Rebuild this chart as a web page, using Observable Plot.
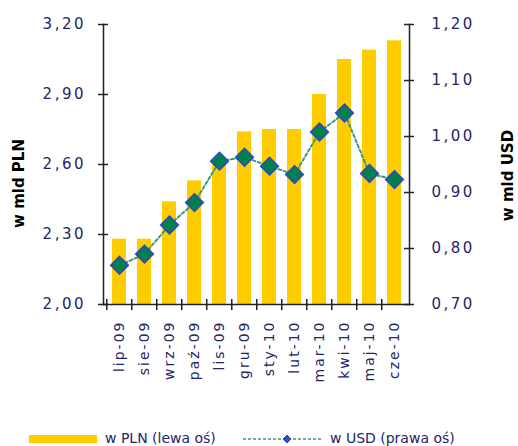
<!DOCTYPE html>
<html>
<head>
<meta charset="utf-8">
<script src="https://cdn.jsdelivr.net/npm/d3@7"></script>
<script src="https://cdn.jsdelivr.net/npm/@observablehq/plot@0.6"></script>
<style>
  html, body { margin: 0; padding: 0; background: #fff; }
  #chart svg { display: block; overflow: visible; }
  g[aria-label="y-axis tick label"] text { letter-spacing: 2.5px; }
  g[aria-label="x-axis tick label"] text { letter-spacing: 2px; }
  #legend { position: relative; width: 518px; height: 21px; font: 14px "DejaVu Sans", sans-serif; color: #242466; }
  #legend > * { position: absolute; }
</style>
</head>
<body>
<div id="chart"></div>
<div id="legend">
  <div style="left:29px;top:10px;width:68px;height:8px;background:#FFCC00"></div>
  <span style="left:105px;top:5px;line-height:16px;">w PLN (lewa oś)</span>
  <svg style="left:243px;top:8px" width="80" height="12">
    <line x1="0" y1="6" x2="80" y2="6" stroke="#3A9A78" stroke-width="1.5" stroke-dasharray="3,2"/>
    <path d="M44,2 L48,6 L44,10 L40,6 Z" fill="#1f5fa0" stroke="#3040C8" stroke-width="1"/>
  </svg>
  <span style="left:330px;top:5px;line-height:16px;">w USD (prawa oś)</span>
</div>
<script>
const months = ["lip-09","sie-09","wrz-09","paź-09","lis-09","gru-09","sty-10","lut-10","mar-10","kwi-10","maj-10","cze-10"];
const pln = [2.28, 2.28, 2.44, 2.53, 2.62, 2.74, 2.75, 2.75, 2.90, 3.05, 3.09, 3.13];
const usd = [0.770, 0.790, 0.842, 0.882, 0.956, 0.963, 0.947, 0.932, 1.008, 1.042, 0.934, 0.923];
const plnTicks = [2.00, 2.30, 2.60, 2.90, 3.20];
const usdTicks = [0.70, 0.80, 0.90, 1.00, 1.10, 1.20];

const plnDomain = [2.00, 3.20];
const usdDomain = [0.70, 1.20];
const toPLN = u => plnDomain[0] + (u - usdDomain[0]) * (plnDomain[1] - plnDomain[0]) / (usdDomain[1] - usdDomain[0]);
const fromPLN = p => usdDomain[0] + (p - plnDomain[0]) * (usdDomain[1] - usdDomain[0]) / (plnDomain[1] - plnDomain[0]);
const fmt = d => d.toFixed(2).replace(".", ",");

const data = months.map((m, i) => ({month: m, pln: pln[i], usd: usd[i]}));

const W = 518, H = 425, mL = 103, mR = 109, mT = 24, mB = 121;
const plotW = W - mL - mR, plotH = H - mT - mB;
const step = plotW / months.length;
const navy = "#242466";
const axisColor = "#222";

const chart = Plot.plot({
  width: W, height: H,
  marginLeft: mL, marginRight: mR, marginTop: mT, marginBottom: mB,
  x: {type: "band", domain: months, paddingInner: 0.45, paddingOuter: 0.225, axis: null},
  y: {domain: plnDomain, axis: null},
  style: {fontFamily: "DejaVu Sans, sans-serif", background: "#fff", overflow: "visible"},
  marks: [
    Plot.barY(data, {x: "month", y1: plnDomain[0], y2: "pln", fill: "#FFCC00"}),
    Plot.lineY(data, {x: "month", y: d => toPLN(d.usd), stroke: "#3A9A78", strokeWidth: 2, strokeDasharray: "3,2.5"}),
    Plot.dot(data, {x: "month", y: d => toPLN(d.usd), symbol: "diamond2", r: 8, fill: "#00804F", stroke: "#3344CC", strokeWidth: 1.5}),
    Plot.frame({anchor: "left", stroke: axisColor, strokeWidth: 1.5}),
    Plot.frame({anchor: "right", stroke: axisColor, strokeWidth: 1.5}),
    Plot.frame({anchor: "bottom", stroke: axisColor, strokeWidth: 1.5}),
    Plot.tickY(plnTicks, {y: d => d, insetLeft: -5, insetRight: plotW - 5, stroke: axisColor, strokeWidth: 1.5}),
    Plot.tickY(usdTicks.map(toPLN), {y: d => d, insetLeft: plotW - 5, insetRight: -5, stroke: axisColor, strokeWidth: 1.5}),
    Plot.tickX(months, {x: d => d, dx: -step / 2, insetTop: plotH - 5, insetBottom: -6, stroke: axisColor, strokeWidth: 1.5}),
    Plot.axisY({ticks: plnTicks, anchor: "left", tickSize: 0, tickPadding: 17.5, tickFormat: fmt, fontSize: 15, fill: navy, label: null}),
    Plot.axisY({ticks: usdTicks.map(toPLN), anchor: "right", tickSize: 0, tickPadding: 22, tickFormat: v => fmt(fromPLN(v)), fontSize: 15, fill: navy, label: null}),
    Plot.axisX({anchor: "bottom", tickRotate: -90, tickSize: 0, tickPadding: 16, fontSize: 14, fill: navy, label: null}),
    Plot.text(["w mld PLN"], {frameAnchor: "left", textAnchor: "middle", dx: -84, dy: 19, rotate: -90, fontWeight: "bold", fontSize: 15, fill: "#000", text: d => d}),
    Plot.text(["w mld USD"], {frameAnchor: "right", textAnchor: "middle", dx: 98.5, dy: 11, rotate: -90, fontWeight: "bold", fontSize: 15, fill: "#000", text: d => d})
  ]
});
document.getElementById("chart").appendChild(chart);
</script>
</body>
</html>
